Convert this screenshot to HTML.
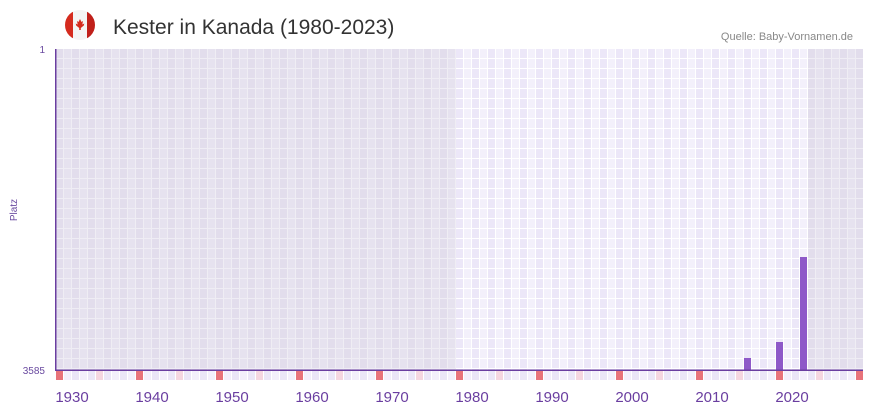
<!DOCTYPE html>
<html><head><meta charset="utf-8"><style>
body{margin:0;background:#fff;width:873px;height:412px;overflow:hidden;font-family:"Liberation Sans",sans-serif}
</style></head><body>
<svg id="s" width="873" height="412" xmlns="http://www.w3.org/2000/svg">
<defs>
<clipPath id="fc"><circle cx="80" cy="25" r="15"/></clipPath>
<pattern id="pd" x="56" y="49" width="16" height="10" patternUnits="userSpaceOnUse">
<rect width="8" height="10" fill="#e2ddec"/><rect x="8" width="8" height="10" fill="#e6e2ef"/>
<rect x="7" width="1" height="10" fill="#efedf4"/><rect x="15" width="1" height="10" fill="#efedf4"/>
<rect y="9" width="16" height="1" fill="#efedf4"/></pattern>
<pattern id="pl" x="56" y="49" width="16" height="10" patternUnits="userSpaceOnUse">
<rect width="8" height="10" fill="#ece7f8"/><rect x="8" width="8" height="10" fill="#f3f0fb"/>
<rect x="7" width="1" height="10" fill="#fff"/><rect x="15" width="1" height="10" fill="#fff"/>
<rect y="9" width="16" height="1" fill="#fff"/></pattern>
</defs>
<g clip-path="url(#fc)">
<rect x="65" y="10" width="30" height="30" fill="#f4f4f4"/>
<rect x="65" y="10" width="8" height="30" fill="#d52b1e"/>
<rect x="87" y="10" width="8" height="30" fill="#c0201a"/>
<path d="M80 19 l1.5 3 1.5-1 -0.7 3.5 2-1 -0.5 2 -3 2.5 v2 h-1.6 v-2 l-3-2.5 -0.5-2 2 1 -0.7-3.5 1.5 1z" fill="#d52b1e"/>
</g>
<text x="113" y="34" font-size="21" fill="#333" font-family="Liberation Sans,sans-serif">Kester in Kanada (1980-2023)</text>
<text x="853" y="40" font-size="11" fill="#888" text-anchor="end">Quelle: Baby-Vornamen.de</text>
<text x="45" y="53" font-size="10" fill="#6a4aa0" text-anchor="end">1</text>
<text x="45" y="374" font-size="10" fill="#6a4aa0" text-anchor="end">3585</text>
<text x="17" y="210" font-size="10" fill="#6a4aa0" text-anchor="middle" transform="rotate(-90 17 210)">Platz</text>
<rect x="56" y="49" width="807" height="321" fill="url(#pd)"/>
<rect x="456" y="49" width="352" height="321" fill="url(#pl)"/>
<rect x="744" y="358" width="7" height="12" fill="#8e59c8"/>
<rect x="776" y="342" width="7" height="28" fill="#8e59c8"/>
<rect x="800" y="257" width="7" height="113" fill="#8e59c8"/>
<g id="strip"></g>
<rect x="55" y="49" width="1.5" height="322" fill="#6a3ea0"/>
<rect x="55" y="369.5" width="808" height="1.5" fill="#6a3ea0"/>
<g font-size="15" fill="#6a3ea0" id="lbl"></g>
</svg>
<script>
var st=document.getElementById('strip'),lb=document.getElementById('lbl'),h='';
for(var i=0;i<101;i++){var x=56+i*8,c;
if(i%10==0)c='#e8737a';else if(i%10==5)c='#f5d6e0';else c=(i%2?'#f3effb':'#ebe6f7');
h+='<rect x="'+x+'" y="371" width="7" height="9" fill="'+c+'"/>';}
st.innerHTML=h;h='';
for(var y=1930;y<=2020;y+=10){var x=72+(y-1930)*8;h+='<text x="'+x+'" y="402" text-anchor="middle">'+y+'</text>';}
lb.innerHTML=h;
</script>
</body></html>
